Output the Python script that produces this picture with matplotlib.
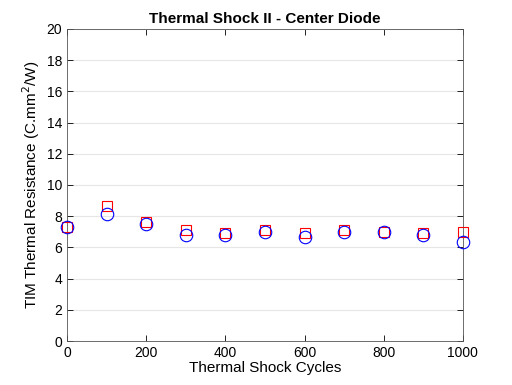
import matplotlib
matplotlib.use("Agg")
import matplotlib.pyplot as plt

cycles = [0, 100, 200, 300, 400, 500, 600, 700, 800, 900, 1000]
blue_vals = [7.28, 8.12, 7.52, 6.80, 6.80, 6.97, 6.66, 6.96, 6.98, 6.80, 6.38]
red_vals = [7.30, 8.65, 7.65, 7.10, 6.95, 7.10, 6.94, 7.10, 6.98, 6.95, 6.96]

plt.rcParams['font.family'] = ['Liberation Sans', 'DejaVu Sans']

fig = plt.figure(figsize=(5.12, 3.85), dpi=100)
ax = fig.add_axes([0.131, 0.114, 0.773, 0.811])

ax.plot(cycles, red_vals, linestyle='none', marker='s', markersize=7.5,
        markerfacecolor='none', markeredgecolor='red', markeredgewidth=0.8,
        clip_on=False, zorder=3)
ax.plot(cycles, blue_vals, linestyle='none', marker='o', markersize=9,
        markerfacecolor='none', markeredgecolor='blue', markeredgewidth=0.8,
        clip_on=False, zorder=3)

ax.set_xlim(0, 1000)
ax.set_ylim(0, 20)
ax.set_xticks(range(0, 1001, 200))
ax.set_yticks(range(0, 21, 2))
ax.yaxis.grid(True, color='#e6e6e6', linewidth=0.8)
ax.set_axisbelow(True)
ax.tick_params(direction='in', top=True, right=True, labelsize=10, length=4, width=0.6)
for s in ax.spines.values():
    s.set_linewidth(0.6)
    s.set_color('#555555')

ax.set_xlabel('Thermal Shock Cycles', fontsize=11, labelpad=1)
ax.set_ylabel('TIM Thermal Resistance (C.mm$^2$/W)', fontsize=11, labelpad=3)
ax.set_title('Thermal Shock II - Center Diode', fontsize=11, fontweight='bold', pad=4)

fig.savefig('out.png', dpi=100)
